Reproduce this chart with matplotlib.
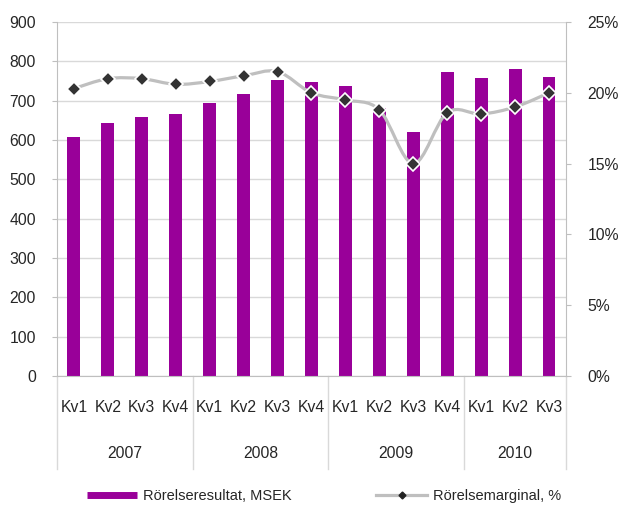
import numpy as np
import matplotlib.pyplot as plt
from matplotlib.path import Path
from matplotlib.patches import PathPatch
from matplotlib.lines import Line2D
import matplotlib.transforms as mtransforms

plt.rcParams['font.family'] = ['Liberation Sans', 'DejaVu Sans']

# data
quarters = ['Kv1', 'Kv2', 'Kv3', 'Kv4', 'Kv1', 'Kv2', 'Kv3', 'Kv4',
            'Kv1', 'Kv2', 'Kv3', 'Kv4', 'Kv1', 'Kv2', 'Kv3']
years = ['2007', '2008', '2009', '2010']
quarters_per_year = [4, 4, 4, 3]
rorelseresultat = [607, 643, 658, 666, 694, 717, 753, 748,
                   738, 682, 620, 773, 758, 780, 760]
rorelsemarginal = [20.3, 21.0, 21.0, 20.6, 20.8, 21.2, 21.5, 20.0,
                   19.5, 18.8, 15.0, 18.6, 18.5, 19.0, 20.0]

purple = '#990099'
grey_line = '#BFBFBF'
grid_c = '#D9D9D9'
text_c = '#262626'
fs = 11.3
fs_leg = 10.5

fig = plt.figure(figsize=(6.24, 5.05), dpi=100)
ax = fig.add_axes([0.0913, 0.2554, 0.8157, 0.701])
x = np.arange(len(quarters))

ax.bar(x, rorelseresultat, width=0.38, color=purple, zorder=2)
ax.set_xlim(-0.5, len(quarters) - 0.5)
ax.set_ylim(0, 900)
ax.set_yticks(range(0, 901, 100))
ax.yaxis.grid(True, color=grid_c, lw=1)
ax.set_axisbelow(True)
ax.tick_params(axis='y', length=3.6, color=grey_line, labelsize=fs, labelcolor=text_c, pad=11.5)
ax.set_xticks(x)
ax.set_xticklabels(quarters)
ax.tick_params(axis='x', length=0, labelsize=fs, labelcolor=text_c, pad=17.5)
for s in ['top', 'right']:
    ax.spines[s].set_visible(False)
for s in ['left', 'bottom']:
    ax.spines[s].set_color(grey_line)

# group separators and year labels
trans = mtransforms.blended_transform_factory(ax.transData, ax.transAxes)
bounds = np.concatenate([[0], np.cumsum(quarters_per_year)]) - 0.5
for b in bounds:
    ax.plot([b, b], [0, -0.264], transform=trans, color=grid_c, lw=1, clip_on=False)
for i, yr in enumerate(years):
    c = (bounds[i] + bounds[i + 1]) / 2
    ax.text(c, -0.218, yr, transform=trans, ha='center', va='center',
            fontsize=fs, color=text_c)

ax2 = ax.twinx()
ax2.set_ylim(0, 25)
ax2.set_yticks(range(0, 26, 5))
ax2.set_yticklabels([f'{v}%' for v in range(0, 26, 5)])
ax2.tick_params(axis='y', length=3.6, color=grey_line, labelsize=fs, labelcolor=text_c, pad=12)
for s in ['top', 'left', 'bottom']:
    ax2.spines[s].set_visible(False)
ax2.spines['right'].set_color(grey_line)

# smoothed line (Catmull-Rom as bezier segments)
pts = np.column_stack([x, rorelsemarginal]).astype(float)
verts = [pts[0]]
codes = [Path.MOVETO]
n = len(pts)
for i in range(n - 1):
    p0 = pts[max(i - 1, 0)]
    p1 = pts[i]
    p2 = pts[i + 1]
    p3 = pts[min(i + 2, n - 1)]
    c1 = p1 + (p2 - p0) / 6
    c2 = p2 - (p3 - p1) / 6
    verts += [c1, c2, p2]
    codes += [Path.CURVE4] * 3
ax2.add_patch(PathPatch(Path(verts, codes), fc='none', ec=grey_line, lw=2.3, zorder=3))
ax2.plot(x, rorelsemarginal, ls='none', marker='D', ms=7, mfc='#333333',
         mec='white', mew=1.2, zorder=4)

handles = [Line2D([], [], color=purple, lw=5, solid_capstyle='butt'),
           Line2D([], [], color=grey_line, lw=2.3, marker='D', ms=3.5,
                  mfc='#222222', mec='#222222')]
fig.legend(handles, ['Rörelseresultat, MSEK', 'Rörelsemarginal, %'],
           loc='center', bbox_to_anchor=(0.519, 0.018), ncol=2, frameon=False,
           handlelength=3.45, columnspacing=5.8, handletextpad=0.4,
           fontsize=fs_leg, labelcolor=text_c)

fig.savefig('out.png', dpi=100)
